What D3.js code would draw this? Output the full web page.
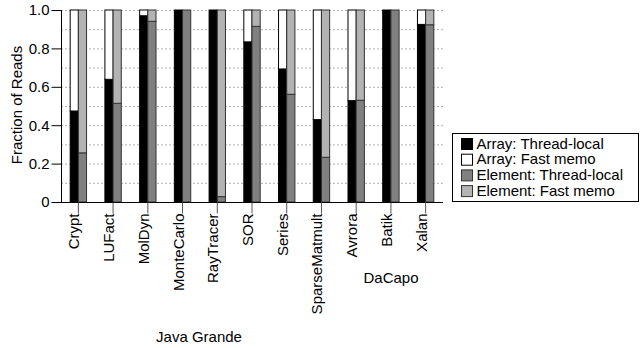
<!DOCTYPE html>
<html>
<head>
<meta charset="utf-8">
<script src="https://cdn.jsdelivr.net/npm/d3@7"></script>
<style>
  html, body { margin: 0; padding: 0; background: #fff; }
  svg { display: block; font-family: "Liberation Sans", Arial, sans-serif; }
</style>
</head>
<body>
<svg id="chart" width="640" height="348"></svg>
<script>
const categories = ["Crypt", "LUFact", "MolDyn", "MonteCarlo", "RayTracer", "SOR", "Series", "SparseMatmult", "Avrora", "Batik", "Xalan"];
const arrayThreadLocal   = [0.474, 0.639, 0.970, 0.995, 1.000, 0.834, 0.693, 0.429, 0.528, 1.000, 0.925];
const arrayFastMemo      = [0.526, 0.361, 0.030, 0.005, 0.000, 0.166, 0.307, 0.571, 0.472, 0.000, 0.075];
const elementThreadLocal = [0.256, 0.514, 0.941, 1.000, 0.028, 0.915, 0.561, 0.233, 0.530, 1.000, 0.923];
const elementFastMemo    = [0.744, 0.486, 0.059, 0.000, 0.972, 0.085, 0.439, 0.767, 0.470, 0.000, 0.077];
const yTicks = [0, 0.2, 0.4, 0.6, 0.8, 1.0];
const gridValues = [0.1, 0.2, 0.3, 0.4, 0.5, 0.6, 0.7, 0.8, 0.9, 1.0];
const seriesNames = ["Array: Thread-local", "Array: Fast memo", "Element: Thread-local", "Element: Fast memo"];
const groupLabels = [{ text: "Java Grande", center: 199, y: 342 }, { text: "DaCapo", center: 391, y: 283 }];

const colors = ["#000000", "#ffffff", "#808080", "#b3b3b3"];
const strokes = ["#000000", "#000000", "#333333", "#333333"];

const svg = d3.select("#chart");
const pLeft = 61, pRight = 443, pTop = 10, pBottom = 202;

const x = d3.scaleBand().domain(categories).range([pLeft, pRight]).paddingInner(0.5).paddingOuter(0.25);
const y = d3.scaleLinear().domain([0, 1]).range([pBottom, pTop]);
const bw = x.bandwidth() / 2;

// gridlines
svg.append("g").selectAll("line").data(gridValues).join("line")
  .attr("x1", pLeft).attr("x2", pRight)
  .attr("y1", d => y(d) + 0.5).attr("y2", d => y(d) + 0.5)
  .attr("stroke", "#b0b0b0").attr("stroke-width", 1).attr("stroke-dasharray", "2,2");

// stacked data
const arrayStack = d3.stack().keys([0, 1]).value((d, k) => d[k])(categories.map((c, i) => [arrayThreadLocal[i], arrayFastMemo[i]]));
const elemStack = d3.stack().keys([0, 1]).value((d, k) => d[k])(categories.map((c, i) => [elementThreadLocal[i], elementFastMemo[i]]));

const bars = svg.append("g");
arrayStack.forEach((layer, li) => {
  bars.append("g").selectAll("rect").data(layer).join("rect")
    .attr("x", (d, i) => x(categories[i]) + 0.5)
    .attr("width", bw - 0.5)
    .attr("y", d => y(d[1]))
    .attr("height", d => Math.max(0, y(d[0]) - y(d[1])))
    .attr("fill", colors[li]).attr("stroke", strokes[li]).attr("stroke-width", 1);
});
elemStack.forEach((layer, li) => {
  bars.append("g").selectAll("rect").data(layer).join("rect")
    .attr("x", (d, i) => x(categories[i]) + bw)
    .attr("width", bw - 0.5)
    .attr("y", d => y(d[1]))
    .attr("height", d => Math.max(0, y(d[0]) - y(d[1])))
    .attr("fill", colors[li + 2]).attr("stroke", strokes[li + 2]).attr("stroke-width", 1);
});

// y axis
const yAxis = svg.append("g").attr("transform", `translate(${pLeft + 0.5},0)`)
  .call(d3.axisLeft(y).tickValues(yTicks).tickSize(10).tickPadding(2)
    .tickFormat(d => d === 0 ? "0" : d3.format(".1f")(d)));
yAxis.select(".domain").attr("d", `M0,${pTop}V${pBottom}`).attr("stroke", "#000");
yAxis.selectAll(".tick line").attr("stroke", "#000");
yAxis.selectAll("text").attr("font-size", "15px").attr("fill", "#000").attr("font-family", "Liberation Sans, Arial, sans-serif");

// x axis
const xAxis = svg.append("g").attr("transform", `translate(0,${pBottom + 0.5})`)
  .call(d3.axisBottom(x).tickSize(11).tickFormat(""));
xAxis.select(".domain").attr("d", `M${pLeft},0H${pRight}`).attr("stroke", "#000");
xAxis.selectAll(".tick line").attr("stroke", "#555");
xAxis.selectAll(".tick").append("text")
  .attr("transform", "translate(1,11) rotate(-90)")
  .attr("text-anchor", "end")
  .attr("x", 0).attr("y", 0)
  .attr("fill", "#000").attr("font-size", "15px")
  .attr("font-family", "Liberation Sans, Arial, sans-serif")
  .text(d => d);

// y title
svg.append("text")
  .attr("transform", `translate(22,105) rotate(-90)`)
  .attr("text-anchor", "middle")
  .attr("font-size", "15px").attr("fill", "#000")
  .text("Fraction of Reads");

// group labels
svg.append("g").selectAll("text").data(groupLabels).join("text")
  .attr("x", d => d.center).attr("y", d => d.y)
  .attr("text-anchor", "middle").attr("font-size", "15px").attr("fill", "#000")
  .text(d => d.text);

// legend
const lg = svg.append("g");
lg.append("rect").attr("x", 452.5).attr("y", 133.5).attr("width", 186).attr("height", 68)
  .attr("fill", "#fff").attr("stroke", "#000").attr("stroke-width", 1);
const rows = lg.selectAll("g.row").data(seriesNames).join("g").attr("class", "row")
  .attr("transform", (d, i) => `translate(0,${148.5 + i * 15.7})`);
rows.append("rect").attr("x", 461.5).attr("y", -10).attr("width", 11).attr("height", 11)
  .attr("fill", (d, i) => colors[i]).attr("stroke", (d, i) => strokes[i]).attr("stroke-width", 1);
rows.append("text").attr("x", 476.5).attr("y", 0).attr("font-size", "15px").attr("fill", "#000").text(d => d);
</script>
</body>
</html>
